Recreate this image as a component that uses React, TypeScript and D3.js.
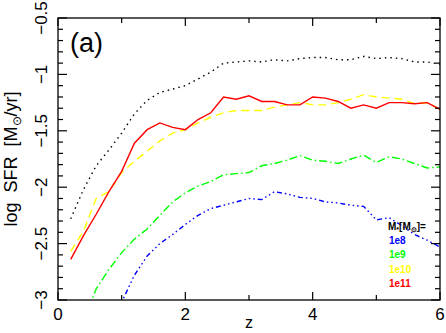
import React from "react";
import * as d3 from "d3";

const zAll = [0.2, 0.4, 0.6, 0.8, 1.0, 1.2, 1.4, 1.6, 1.8, 2.0, 2.2, 2.4, 2.6, 2.8, 3.0, 3.2, 3.4, 3.6, 3.8, 4.0, 4.2, 4.4, 4.6, 4.8, 5.0, 5.2, 5.4, 5.6, 5.8, 6.0];

const totalSFR = [-2.28, -2.02, -1.81, -1.67, -1.52, -1.35, -1.23, -1.16, -1.13, -1.10, -1.04, -0.98, -0.90, -0.89, -0.88, -0.89, -0.87, -0.88, -0.86, -0.85, -0.85, -0.87, -0.87, -0.84, -0.86, -0.85, -0.86, -0.89, -0.89, -0.91];
const sfr1e11 = [-2.64, -2.43, -2.24, -2.04, -1.86, -1.61, -1.49, -1.43, -1.47, -1.49, -1.40, -1.34, -1.20, -1.22, -1.19, -1.24, -1.24, -1.27, -1.27, -1.20, -1.21, -1.24, -1.30, -1.27, -1.30, -1.25, -1.25, -1.26, -1.25, -1.31];
const sfr1e10 = [-2.57, -2.39, -2.10, -2.04, -1.87, -1.77, -1.68, -1.59, -1.52, -1.49, -1.43, -1.38, -1.34, -1.32, -1.32, -1.32, -1.29, -1.27, -1.25, -1.27, -1.27, -1.25, -1.22, -1.18, -1.20, -1.21, -1.22, -1.26, -1.25, -1.31];
const zGreen = zAll.slice(1);
const sfr1e9 = [-3.2, -2.90, -2.73, -2.58, -2.46, -2.37, -2.25, -2.13, -2.05, -1.99, -1.95, -1.89, -1.88, -1.87, -1.81, -1.79, -1.76, -1.72, -1.76, -1.77, -1.79, -1.75, -1.715, -1.78, -1.73, -1.75, -1.79, -1.83, -1.82];
const zBlue = zAll.slice(3);
const sfr1e8 = [-3.3, -3.02, -2.78, -2.61, -2.50, -2.42, -2.33, -2.25, -2.19, -2.16, -2.13, -2.10, -2.11, -2.04, -2.06, -2.09, -2.10, -2.13, -2.14, -2.16, -2.17, -2.29, -2.27, -2.34, -2.42, -2.47, -2.53];

const xMajor = [0, 2, 4, 6];
const xMinor = [1, 3, 5];
const yMajor = [-3, -2.5, -2, -1.5, -1, -0.5];
const legendLabels = ["1e8", "1e9", "1e10", "1e11"];
const legendColors = ["#0000ff", "#00ff00", "#ffff00", "#ff0000"];

const W = 446, H = 333;
const L = 58, R = 440, T = 18, B = 300;

export default function App() {
  const x = d3.scaleLinear().domain([0, 6]).range([L, R]);
  const y = d3.scaleLinear().domain([-3, -0.5]).range([B, T]);
  const line = (zs: number[], vs: number[]) =>
    d3.line<number>().x((_, i) => x(zs[i])).y((v) => y(v))(vs) as string;

  const yMinor = d3.range(-3, -0.45, 0.1).map((v) => +v.toFixed(2)).filter((v) => !yMajor.some((m) => Math.abs(m - v) < 1e-6));

  const series = [
    { zs: zAll, vs: totalSFR, color: "#000000", dash: "1.5,4" },
    { zs: zBlue, vs: sfr1e8, color: "#0000ff", dash: "5,3,1.5,3,1.5,3,1.5,3" },
    { zs: zGreen, vs: sfr1e9, color: "#00ff00", dash: "8,3,1.5,3" },
    { zs: zAll, vs: sfr1e10, color: "#ffff00", dash: "8,5" },
    { zs: zAll, vs: sfr1e11, color: "#ff0000", dash: "" },
  ];

  const font = "'Liberation Sans', Arial, sans-serif";

  return (
    <div style={{ position: "absolute", left: 0, top: 0 }}>
      <svg width={W} height={H} style={{ display: "block", background: "#fff" }} fontFamily={font}>
        <defs>
          <clipPath id="plotclip">
            <rect x={L} y={T} width={R - L} height={B - T} />
          </clipPath>
        </defs>
        <g clipPath="url(#plotclip)">
          {series.map((s, i) => (
            <path key={i} d={line(s.zs, s.vs)} fill="none" stroke={s.color} strokeWidth={1.4} strokeDasharray={s.dash || undefined} />
          ))}
        </g>
        {/* frame */}
        <rect x={L} y={T} width={R - L} height={B - T} fill="none" stroke="#000" strokeWidth={1.3} />
        {/* x ticks */}
        {xMajor.map((v) => (
          <g key={"xM" + v}>
            <line x1={x(v)} x2={x(v)} y1={B} y2={B - 8} stroke="#000" strokeWidth={1.2} />
            <line x1={x(v)} x2={x(v)} y1={T} y2={T + 8} stroke="#000" strokeWidth={1.2} />
            <text x={x(v)} y={320} fontSize={17} textAnchor="middle">{v}</text>
          </g>
        ))}
        {xMinor.map((v) => (
          <g key={"xm" + v}>
            <line x1={x(v)} x2={x(v)} y1={B} y2={B - 5} stroke="#000" strokeWidth={1.2} />
            <line x1={x(v)} x2={x(v)} y1={T} y2={T + 5} stroke="#000" strokeWidth={1.2} />
          </g>
        ))}
        {/* y ticks */}
        {yMajor.map((v) => (
          <g key={"yM" + v}>
            <line x1={L} x2={L + 9} y1={y(v)} y2={y(v)} stroke="#000" strokeWidth={1.2} />
            <line x1={R} x2={R - 9} y1={y(v)} y2={y(v)} stroke="#000" strokeWidth={1.2} />
            <text transform={`translate(47,${y(v)}) rotate(-90)`} fontSize={17} textAnchor="middle">
              {(v < 0 ? "\u2212" : "") + String(Math.abs(v))}
            </text>
          </g>
        ))}
        {yMinor.map((v) => (
          <g key={"ym" + v}>
            <line x1={L} x2={L + 5} y1={y(v)} y2={y(v)} stroke="#000" strokeWidth={1.2} />
            <line x1={R} x2={R - 5} y1={y(v)} y2={y(v)} stroke="#000" strokeWidth={1.2} />
          </g>
        ))}
        {/* axis labels */}
        <text x={249} y={328} fontSize={16} textAnchor="middle">z</text>
        <text transform={`translate(17,${(T + B) / 2}) rotate(-90)`} fontSize={18} textAnchor="middle" xmlSpace="preserve">
          <tspan>log  SFR  [M</tspan>
          <tspan fontSize={12} dy={4}>{"\u2299"}</tspan>
          <tspan dy={-4}>/yr]</tspan>
        </text>
        <text x={70} y={52} fontSize={27}>(a)</text>
        {/* legend */}
        <text x={388} y={230} fontSize={10} fontWeight="bold">
          <tspan>M</tspan>
          <tspan fontSize={7} dy={2}>*</tspan>
          <tspan dy={-2}>[M</tspan>
          <tspan fontSize={7} dy={2}>{"\u2299"}</tspan>
          <tspan dy={-2}>]=</tspan>
        </text>
        {legendLabels.map((lab, i) => (
          <text key={lab} x={389} y={244 + i * 14.3} fontSize={10} fontWeight="bold" fill={legendColors[i]}>{lab}</text>
        ))}
      </svg>
    </div>
  );
}
